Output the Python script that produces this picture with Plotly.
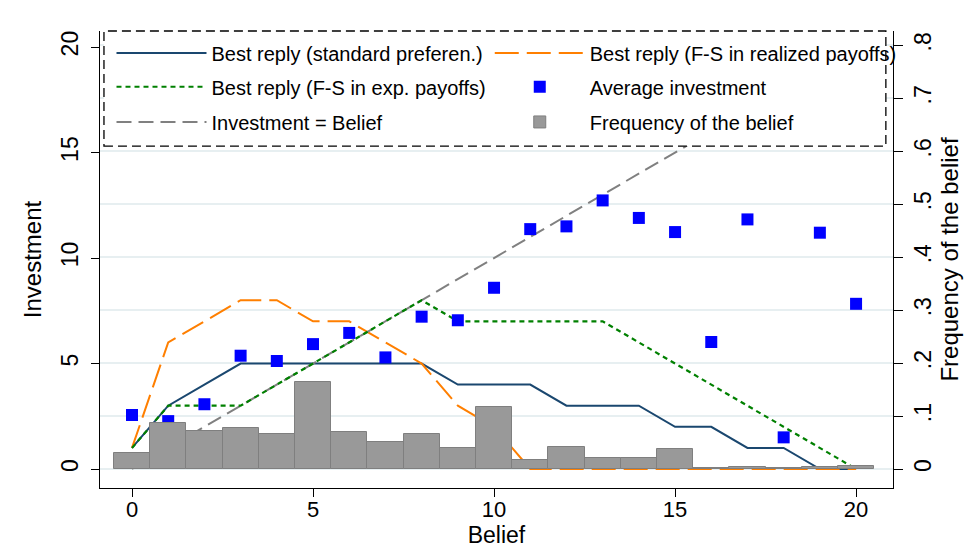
import plotly.graph_objects as go

# ---------------- data ----------------
beliefs = list(range(0, 21))

best_standard = [1, 3, 4, 5, 5, 5, 5, 5, 5, 4, 4, 4, 3, 3, 3, 2, 2, 1, 1, 0, 0]
best_fs_realized = [1, 6, 7, 8, 8, 7, 7, 6, 5, 3, 2, 0, 0, 0, 0, 0, 0, 0, 0, 0, 0]
best_fs_expected = [1, 3, 3, 3, 4, 5, 6, 7, 8, 7, 7, 7, 7, 7, 6, 5, 4, 3, 2, 1, 0]
avg_investment = [2.56, 2.27, 3.07, 5.37, 5.12, 5.92, 6.45, 5.29, 7.22, 7.05, 8.59,
                  11.37, 11.5, 12.73, 11.9, 11.23, 6.02, 11.83, 1.5, 11.2, 7.83]
investment_eq_belief = [0, 1, 2, 3, 4, 5, 6, 7, 8, 9, 10, 11, 12, 13, 14, 15, 16, 17, 18, 19, 20]
freq_belief = [0.030, 0.0865, 0.072, 0.0777, 0.0658, 0.165, 0.069, 0.0508, 0.0664, 0.0395,
               0.118, 0.017, 0.041, 0.021, 0.021, 0.038, 0.0025, 0.0043, 0.0025, 0.0043, 0.0056]

left_ticks = [0, 5, 10, 15, 20]
right_tickvals = [0, 0.1, 0.2, 0.3, 0.4, 0.5, 0.6, 0.7, 0.8]
right_ticktext = ["0", ".1", ".2", ".3", ".4", ".5", ".6", ".7", ".8"]
x_ticks = [0, 5, 10, 15, 20]

FONT = "Liberation Sans, Arial, sans-serif"
RATIO = 25.1
Y_RANGE = [-0.9, 20.76]

fig = go.Figure()

fig.add_trace(go.Scatter(x=beliefs, y=best_standard, mode="lines",
                         name="Best reply (standard preferen.)",
                         line=dict(color="#1a476f", width=2), legend="legend"))
fig.add_trace(go.Scatter(x=beliefs, y=best_fs_realized, mode="lines",
                         name="Best reply (F-S in realized payoffs)",
                         line=dict(color="#ff7f00", width=2, dash="24px,8px"), legend="legend2"))
fig.add_trace(go.Scatter(x=beliefs, y=investment_eq_belief, mode="lines",
                         name="Investment = Belief",
                         line=dict(color="#808080", width=2, dash="15px,7px"), legend="legend5"))
fig.add_trace(go.Scatter(x=beliefs, y=best_fs_expected, mode="lines",
                         name="Best reply (F-S in exp. payoffs)",
                         line=dict(color="#008000", width=2.2, dash="5px,4px"), legend="legend3"))
fig.add_trace(go.Scatter(x=beliefs, y=avg_investment, mode="markers",
                         name="Average investment",
                         marker=dict(symbol="square", size=12, color="#0000ff", line=dict(width=0)),
                         legend="legend4"))
fig.add_trace(go.Bar(x=beliefs, y=freq_belief, width=1, yaxis="y2",
                     name="Frequency of the belief",
                     marker=dict(color="#999999", line=dict(color="#7f7f7f", width=1)),
                     legend="legend6"))

common_leg = dict(orientation="h", xanchor="left", yanchor="middle",
                  bgcolor="rgba(0,0,0,0)", borderwidth=0,
                  font=dict(family=FONT, size=20, color="black"),
                  itemwidth=90)

COL1 = 0.0145
COL2 = 0.4915
ROWS = [0.952, 0.878, 0.801]

fig.update_layout(
    width=970, height=550,
    margin=dict(l=100, r=77, t=31, b=62, autoexpand=False),
    paper_bgcolor="white", plot_bgcolor="white",
    font=dict(family=FONT, color="black"),
    bargap=0,
    xaxis=dict(range=[-0.884, 21.02], tickvals=x_ticks, ticks="outside", ticklen=8,
               tickcolor="black", showline=True, linecolor="black", linewidth=1,
               showgrid=False, zeroline=False, tickfont=dict(size=22), automargin=False,
               ticklabelstandoff=-6,
               title=dict(text="Belief", font=dict(size=23), standoff=3)),
    yaxis=dict(range=Y_RANGE, tickvals=left_ticks, ticks="outside", ticklen=8,
               tickcolor="black", showline=True, linecolor="black", linewidth=1,
               showgrid=False, zeroline=False, tickangle=-90, tickfont=dict(size=23),
               automargin=False, ticklabelstandoff=4,
               title=dict(text="Investment", font=dict(size=24), standoff=8)),
    yaxis2=dict(overlaying="y", side="right",
                range=[Y_RANGE[0] / RATIO, Y_RANGE[1] / RATIO],
                tickvals=right_tickvals, ticktext=right_ticktext, ticks="outside", ticklen=9,
                tickcolor="black", showline=True, linecolor="black", linewidth=1,
                showgrid=True, gridcolor="#e7eff1", gridwidth=1.5, zeroline=False,
                tickangle=-90, tickfont=dict(size=23), automargin=False,
                ticklabelstandoff=0,
                title=dict(text="Frequency of the belief", font=dict(size=24), standoff=0)),
    legend=dict(common_leg, x=COL1, y=ROWS[0]),
    legend2=dict(common_leg, x=COL2, y=ROWS[0]),
    legend3=dict(common_leg, x=COL1, y=ROWS[1]),
    legend4=dict(common_leg, x=COL2, y=ROWS[1]),
    legend5=dict(common_leg, x=COL1, y=ROWS[2]),
    legend6=dict(common_leg, x=COL2, y=ROWS[2]),
    showlegend=True,
    shapes=[
        dict(type="rect", xref="paper", yref="paper", x0=0.005, x1=0.991, y0=0.748, y1=1.0,
             fillcolor="white", line=dict(color="black", width=1.3, dash="9px,5px"),
             layer="above"),
    ],
)

fig.write_html("out.html")
